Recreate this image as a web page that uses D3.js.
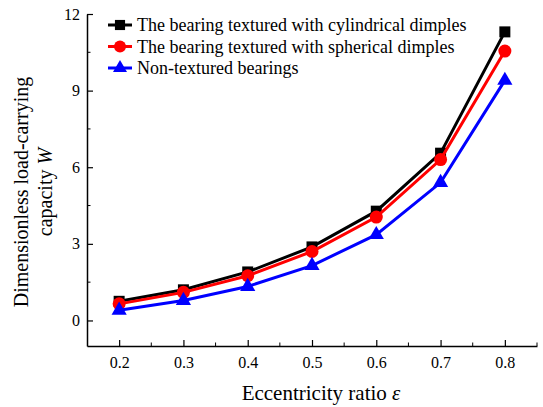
<!DOCTYPE html>
<html>
<head>
<meta charset="utf-8">
<script src="https://cdn.jsdelivr.net/npm/d3@7"></script>
<style>
  body { margin: 0; background: #fff; }
  svg text { font-family: 'Liberation Serif', serif; }
</style>
</head>
<body>
<svg id="chart" width="543" height="407"></svg>
<script>
// data
var ecc = [0.2, 0.3, 0.4, 0.5, 0.6, 0.7, 0.8];
var cylindrical = [0.75, 1.2, 1.9, 2.88, 4.28, 6.55, 11.3];
var spherical = [0.65, 1.1, 1.75, 2.7, 4.05, 6.3, 10.55];
var nonTextured = [0.4, 0.78, 1.33, 2.15, 3.36, 5.4, 9.4];
var xTicks = [0.2, 0.3, 0.4, 0.5, 0.6, 0.7, 0.8];
var yTicks = [0, 3, 6, 9, 12];

var series = [
  { name: "The bearing textured with cylindrical dimples", values: cylindrical, color: "#000000", symbol: d3.symbolSquare, size: 121 },
  { name: "The bearing textured with spherical dimples", values: spherical, color: "#ff0000", symbol: d3.symbolCircle, size: 133 },
  { name: "Non-textured bearings", values: nonTextured, color: "#0000ff", symbol: d3.symbolTriangle, size: 100 }
];

var svg = d3.select("#chart");
var mLeft = 87, mRight = 537, mTop = 14, mBottom = 346;

var x = d3.scaleLinear().domain([0.15, 0.85]).range([mLeft, mRight]);
var y = d3.scaleLinear().domain([-1, 12]).range([mBottom, mTop]);

// axes, ticks pointing inward
var xAxis = d3.axisBottom(x).tickValues(xTicks).tickSizeInner(-6).tickSizeOuter(0)
  .tickFormat(d3.format(".1f")).tickPadding(11);
var gx = svg.append("g").attr("transform", "translate(0," + mBottom + ")").call(xAxis);
var yAxis = d3.axisLeft(y).tickValues(yTicks).tickSizeInner(-6).tickSizeOuter(0).tickPadding(7);
var gy = svg.append("g").attr("transform", "translate(" + mLeft + ",0)").call(yAxis);

// minor ticks
var xMinor = [0.25, 0.35, 0.45, 0.55, 0.65, 0.75, 0.85];
gx.selectAll(".minor").data(xMinor).enter().append("line")
  .attr("x1", function (d) { return x(d); }).attr("x2", function (d) { return x(d); })
  .attr("y1", 0).attr("y2", -3.5).attr("stroke", "#000");
var yMinor = [1.5, 4.5, 7.5, 10.5];
gy.selectAll(".minor").data(yMinor).enter().append("line")
  .attr("y1", function (d) { return y(d); }).attr("y2", function (d) { return y(d); })
  .attr("x1", 0).attr("x2", 3.5).attr("stroke", "#000");

[gx, gy].forEach(function (g) {
  g.attr("font-size", 16).attr("font-family", null);
  g.select(".domain").attr("stroke-width", 1.5);
  g.selectAll("text").attr("fill", "#000");
  g.selectAll(".tick line").attr("stroke-width", 1.2);
});

// lines and markers
var line = d3.line()
  .x(function (d, i) { return x(ecc[i]); })
  .y(function (d) { return y(d); });

series.forEach(function (s) {
  svg.append("path").datum(s.values)
    .attr("d", line).attr("fill", "none")
    .attr("stroke", s.color).attr("stroke-width", 3);
  svg.selectAll(null).data(s.values).enter().append("path")
    .attr("d", d3.symbol().type(s.symbol).size(s.size))
    .attr("transform", function (d, i) { return "translate(" + x(ecc[i]) + "," + y(d) + ")"; })
    .attr("fill", s.color);
});

// legend
var legend = svg.append("g");
series.forEach(function (s, i) {
  var ly = 25 + i * 21.5;
  legend.append("line").attr("x1", 108).attr("x2", 132).attr("y1", ly).attr("y2", ly)
    .attr("stroke", s.color).attr("stroke-width", 3);
  legend.append("path").attr("d", d3.symbol().type(s.symbol).size(s.size * 0.85))
    .attr("transform", "translate(120," + ly + ")").attr("fill", s.color);
  legend.append("text").attr("x", 137).attr("y", ly + 6)
    .attr("font-size", 18).text(s.name);
});

// axis titles
var xt = svg.append("text").attr("x", 321).attr("y", 400)
  .attr("text-anchor", "middle").attr("font-size", 21);
xt.append("tspan").text("Eccentricity ratio ");
xt.append("tspan").attr("font-style", "italic").text("ε");

var yt = svg.append("text").attr("transform", "translate(28,192) rotate(-90)")
  .attr("text-anchor", "middle").attr("font-size", 20);
yt.append("tspan").attr("x", 0).attr("dy", 0).text("Dimensionless load-carrying");
var l2 = yt.append("tspan").attr("x", 0).attr("dy", 24);
l2.append("tspan").text("capacity ");
l2.append("tspan").attr("font-style", "italic").text("W");
</script>
</body>
</html>
